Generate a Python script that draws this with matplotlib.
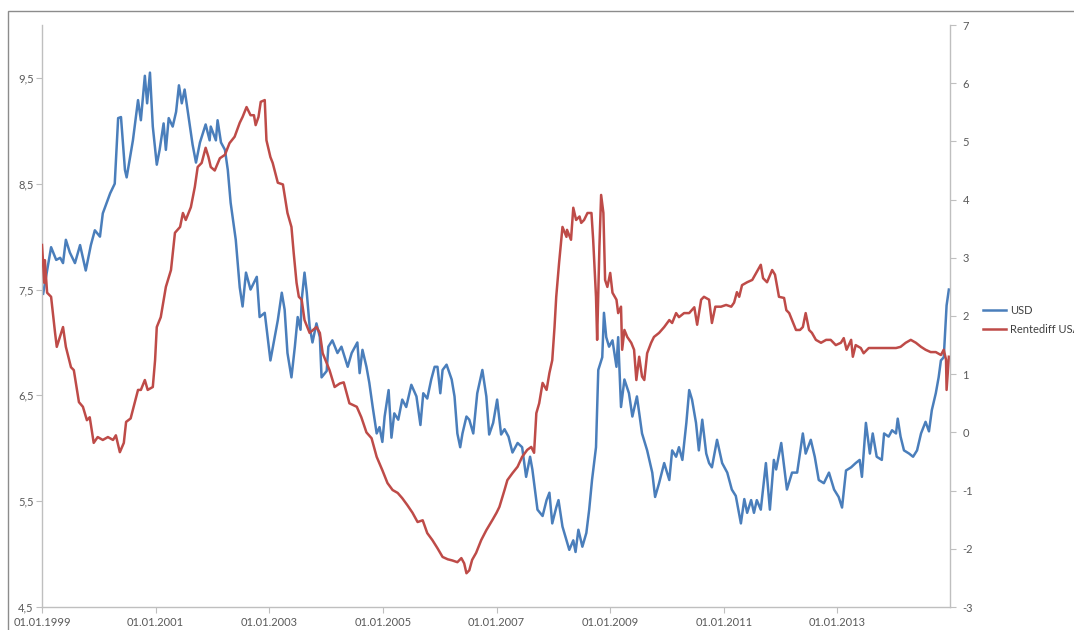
import matplotlib
matplotlib.use("Agg")
import matplotlib.pyplot as plt
from matplotlib.patches import Rectangle

# USD (left axis), position in decimal years
usd_year = [1999.02, 1999.16, 1999.25, 1999.32, 1999.37, 1999.42, 1999.49, 1999.58, 1999.67, 1999.77,
            1999.86, 1999.93, 2000.02, 2000.07, 2000.20, 2000.28, 2000.34, 2000.39, 2000.46, 2000.49,
            2000.60, 2000.69, 2000.74, 2000.81, 2000.85, 2000.90, 2000.95, 2001.02, 2001.07, 2001.14,
            2001.18, 2001.23, 2001.30, 2001.36, 2001.41, 2001.46, 2001.51, 2001.58, 2001.65, 2001.71,
            2001.78, 2001.88, 2001.95, 2001.97, 2002.06, 2002.09, 2002.15, 2002.22, 2002.27, 2002.32,
            2002.41, 2002.48, 2002.53, 2002.59, 2002.67, 2002.78, 2002.83, 2002.92, 2003.02, 2003.15,
            2003.22, 2003.27, 2003.32, 2003.39, 2003.45, 2003.50, 2003.55, 2003.57, 2003.62, 2003.66,
            2003.71, 2003.76, 2003.83, 2003.89, 2003.92, 2004.01, 2004.04, 2004.11, 2004.20, 2004.27,
            2004.38, 2004.45, 2004.55, 2004.59, 2004.64, 2004.71, 2004.76, 2004.82, 2004.89, 2004.94,
            2004.99, 2005.03, 2005.10, 2005.15, 2005.20, 2005.27, 2005.34, 2005.41, 2005.50, 2005.59,
            2005.66, 2005.71, 2005.78, 2005.85, 2005.91, 2005.96, 2006.01, 2006.05, 2006.12, 2006.21,
            2006.26, 2006.31, 2006.36, 2006.40, 2006.47, 2006.52, 2006.59, 2006.66, 2006.75, 2006.82,
            2006.87, 2006.94, 2007.01, 2007.08, 2007.14, 2007.21, 2007.28, 2007.37, 2007.45, 2007.52,
            2007.59, 2007.63, 2007.72, 2007.81, 2007.88, 2007.93, 2007.98, 2008.05, 2008.09, 2008.16,
            2008.23, 2008.28, 2008.35, 2008.39, 2008.44, 2008.51, 2008.58, 2008.63, 2008.68, 2008.75,
            2008.79, 2008.86, 2008.89, 2008.93, 2008.98, 2009.04, 2009.11, 2009.14, 2009.19, 2009.25,
            2009.33, 2009.39, 2009.47, 2009.56, 2009.65, 2009.74, 2009.79, 2009.86, 2009.95, 2010.04,
            2010.09, 2010.16, 2010.21, 2010.27, 2010.34, 2010.39, 2010.44, 2010.51, 2010.56, 2010.62,
            2010.69, 2010.74, 2010.79, 2010.88, 2010.97, 2011.06, 2011.14, 2011.21, 2011.30, 2011.36,
            2011.41, 2011.48, 2011.53, 2011.58, 2011.65, 2011.74, 2011.81, 2011.88, 2011.92, 2012.01,
            2012.06, 2012.11, 2012.20, 2012.29, 2012.39, 2012.44, 2012.53, 2012.60, 2012.67, 2012.76,
            2012.85, 2012.94, 2013.02, 2013.08, 2013.15, 2013.24, 2013.32, 2013.39, 2013.43, 2013.50,
            2013.57, 2013.62, 2013.69, 2013.78, 2013.82, 2013.90, 2013.96, 2014.03, 2014.06, 2014.11,
            2014.17, 2014.26, 2014.33, 2014.40, 2014.47, 2014.55, 2014.61, 2014.66, 2014.73, 2014.78,
            2014.82, 2014.87, 2014.91, 2014.92, 2014.96]
usd = [7.46, 7.90, 7.78, 7.80, 7.75, 7.97, 7.85, 7.75, 7.92, 7.68,
       7.92, 8.06, 8.00, 8.22, 8.41, 8.50, 9.12, 9.13, 8.63, 8.56,
       8.91, 9.29, 9.10, 9.52, 9.26, 9.55, 9.04, 8.68, 8.82, 9.07,
       8.82, 9.12, 9.04, 9.18, 9.43, 9.26, 9.39, 9.13, 8.87, 8.70,
       8.89, 9.06, 8.91, 9.04, 8.91, 9.10, 8.89, 8.82, 8.63, 8.32,
       7.97, 7.52, 7.34, 7.66, 7.50, 7.62, 7.24, 7.28, 6.83, 7.21,
       7.47, 7.31, 6.90, 6.67, 6.96, 7.24, 7.12, 7.40, 7.66, 7.47,
       7.15, 7.00, 7.18, 7.05, 6.67, 6.73, 6.96, 7.02, 6.90, 6.96,
       6.77, 6.90, 7.00, 6.71, 6.93, 6.77, 6.62, 6.39, 6.14, 6.20,
       6.06, 6.30, 6.55, 6.10, 6.33, 6.27, 6.46, 6.39, 6.60, 6.49,
       6.22, 6.52, 6.47, 6.65, 6.77, 6.77, 6.52, 6.74, 6.79, 6.65,
       6.49, 6.14, 6.01, 6.14, 6.30, 6.27, 6.14, 6.52, 6.74, 6.49,
       6.13, 6.24, 6.46, 6.13, 6.18, 6.11, 5.96, 6.05, 6.01, 5.73,
       5.92, 5.80, 5.42, 5.36, 5.51, 5.58, 5.29, 5.44, 5.51, 5.26,
       5.13, 5.04, 5.13, 5.02, 5.23, 5.07, 5.20, 5.42, 5.70, 6.01,
       6.74, 6.86, 7.28, 7.05, 6.96, 7.02, 6.77, 7.05, 6.39, 6.65,
       6.52, 6.30, 6.49, 6.14, 5.98, 5.77, 5.54, 5.67, 5.86, 5.70,
       5.98, 5.92, 6.01, 5.89, 6.24, 6.55, 6.46, 6.24, 5.98, 6.27,
       5.95, 5.86, 5.82, 6.08, 5.86, 5.77, 5.61, 5.55, 5.29, 5.52,
       5.39, 5.51, 5.39, 5.51, 5.42, 5.86, 5.42, 5.89, 5.80, 6.05,
       5.83, 5.61, 5.77, 5.77, 6.14, 5.95, 6.08, 5.92, 5.70, 5.67,
       5.77, 5.61, 5.54, 5.44, 5.79, 5.82, 5.86, 5.89, 5.73, 6.24,
       5.95, 6.14, 5.92, 5.89, 6.14, 6.11, 6.17, 6.14, 6.28, 6.11,
       5.98, 5.95, 5.92, 5.98, 6.14, 6.25, 6.16, 6.36, 6.52, 6.67,
       6.83, 6.86, 7.24, 7.35, 7.50]

# Rentediff USA (right axis)
diff_year = [1999.00, 1999.04, 1999.05, 1999.09, 1999.16, 1999.23, 1999.26, 1999.37, 1999.42, 1999.51,
             1999.56, 1999.65, 1999.72, 1999.79, 1999.84, 1999.91, 1999.98, 2000.07, 2000.16, 2000.25,
             2000.30, 2000.37, 2000.44, 2000.48, 2000.56, 2000.63, 2000.69, 2000.74, 2000.81, 2000.86,
             2000.95, 2000.99, 2001.02, 2001.09, 2001.18, 2001.27, 2001.34, 2001.43, 2001.48, 2001.53,
             2001.62, 2001.69, 2001.74, 2001.81, 2001.88, 2001.93, 2001.97, 2002.04, 2002.13, 2002.22,
             2002.30, 2002.39, 2002.48, 2002.53, 2002.60, 2002.67, 2002.73, 2002.76, 2002.81, 2002.85,
             2002.92, 2002.95, 2003.02, 2003.06, 2003.15, 2003.24, 2003.32, 2003.39, 2003.43, 2003.48,
             2003.52, 2003.57, 2003.62, 2003.71, 2003.83, 2003.89, 2003.94, 2004.01, 2004.06, 2004.15,
             2004.24, 2004.31, 2004.41, 2004.54, 2004.62, 2004.71, 2004.80, 2004.89, 2004.99, 2005.08,
             2005.17, 2005.26, 2005.34, 2005.43, 2005.52, 2005.61, 2005.70, 2005.78, 2005.87, 2005.96,
             2006.05, 2006.14, 2006.22, 2006.31, 2006.38, 2006.43, 2006.47, 2006.52, 2006.57, 2006.64,
             2006.73, 2006.82, 2006.93, 2007.00, 2007.05, 2007.14, 2007.19, 2007.28, 2007.37, 2007.45,
             2007.54, 2007.61, 2007.66, 2007.70, 2007.75, 2007.81, 2007.88, 2007.93, 2007.98, 2008.02,
             2008.05, 2008.10, 2008.16, 2008.23, 2008.24, 2008.31, 2008.35, 2008.40, 2008.46, 2008.49,
             2008.54, 2008.60, 2008.67, 2008.70, 2008.75, 2008.77, 2008.81, 2008.84, 2008.88, 2008.91,
             2008.95, 2009.00, 2009.04, 2009.11, 2009.14, 2009.19, 2009.21, 2009.25, 2009.30, 2009.37,
             2009.42, 2009.46, 2009.51, 2009.56, 2009.60, 2009.65, 2009.72, 2009.77, 2009.86, 2009.95,
             2010.04, 2010.09, 2010.16, 2010.21, 2010.30, 2010.39, 2010.48, 2010.53, 2010.60, 2010.65,
             2010.74, 2010.79, 2010.85, 2010.95, 2011.04, 2011.13, 2011.18, 2011.23, 2011.27, 2011.32,
             2011.41, 2011.50, 2011.58, 2011.65, 2011.69, 2011.76, 2011.85, 2011.90, 2011.97, 2012.06,
             2012.10, 2012.15, 2012.20, 2012.27, 2012.34, 2012.39, 2012.44, 2012.50, 2012.55, 2012.62,
             2012.71, 2012.80, 2012.88, 2012.97, 2013.06, 2013.11, 2013.16, 2013.24, 2013.27, 2013.32,
             2013.41, 2013.46, 2013.55, 2013.67, 2013.78, 2013.90, 2014.03, 2014.11, 2014.20, 2014.29,
             2014.38, 2014.47, 2014.55, 2014.64, 2014.73, 2014.82, 2014.87, 2014.91, 2014.92, 2014.96]
diff = [3.22, 2.57, 2.96, 2.40, 2.33, 1.71, 1.47, 1.81, 1.47, 1.12,
        1.07, 0.52, 0.44, 0.21, 0.26, -0.18, -0.08, -0.13, -0.08, -0.13,
        -0.05, -0.34, -0.18, 0.18, 0.24, 0.50, 0.73, 0.73, 0.90, 0.73,
        0.78, 1.24, 1.81, 1.98, 2.50, 2.79, 3.43, 3.53, 3.77, 3.65,
        3.87, 4.22, 4.56, 4.63, 4.89, 4.73, 4.56, 4.50, 4.71, 4.77,
        4.97, 5.08, 5.32, 5.42, 5.59, 5.45, 5.45, 5.28, 5.42, 5.68,
        5.71, 5.02, 4.73, 4.63, 4.29, 4.26, 3.77, 3.53, 3.08, 2.57,
        2.33, 2.28, 1.93, 1.71, 1.81, 1.71, 1.36, 1.19, 1.07, 0.78,
        0.84, 0.86, 0.50, 0.44, 0.26, 0.00, -0.10, -0.42, -0.65, -0.87,
        -0.99, -1.04, -1.13, -1.25, -1.38, -1.54, -1.51, -1.73, -1.85, -1.99,
        -2.14, -2.18, -2.20, -2.23, -2.16, -2.25, -2.42, -2.37, -2.19, -2.07,
        -1.85, -1.68, -1.50, -1.38, -1.28, -0.99, -0.82, -0.70, -0.59, -0.42,
        -0.30, -0.25, -0.35, 0.33, 0.50, 0.85, 0.73, 1.02, 1.24, 1.81,
        2.33, 2.91, 3.53, 3.36, 3.48, 3.31, 3.86, 3.65, 3.71, 3.60,
        3.65, 3.77, 3.77, 3.31, 2.33, 1.59, 3.19, 4.08, 3.77, 2.62,
        2.50, 2.74, 2.40, 2.28, 2.05, 2.16, 1.42, 1.76, 1.64, 1.54,
        1.42, 0.90, 1.30, 0.96, 0.90, 1.36, 1.54, 1.64, 1.71, 1.81,
        1.93, 1.88, 2.05, 1.98, 2.05, 2.05, 2.15, 1.85, 2.28, 2.33,
        2.28, 1.88, 2.16, 2.16, 2.19, 2.16, 2.23, 2.41, 2.33, 2.53,
        2.58, 2.62, 2.76, 2.88, 2.65, 2.58, 2.79, 2.71, 2.33, 2.31,
        2.10, 2.05, 1.93, 1.76, 1.76, 1.81, 2.05, 1.76, 1.71, 1.59,
        1.54, 1.59, 1.59, 1.50, 1.54, 1.62, 1.42, 1.59, 1.30, 1.50,
        1.45, 1.36, 1.45, 1.45, 1.45, 1.45, 1.45, 1.47, 1.54, 1.59,
        1.54, 1.47, 1.42, 1.38, 1.38, 1.33, 1.42, 1.25, 0.73, 1.30]

year_ticks = [1999, 2001, 2003, 2005, 2007, 2009, 2011, 2013]
year_labels = ['01.01.1999', '01.01.2001', '01.01.2003', '01.01.2005',
               '01.01.2007', '01.01.2009', '01.01.2011', '01.01.2013']
left_ticks = [4.5, 5.5, 6.5, 7.5, 8.5, 9.5]
left_labels = ['4,5', '5,5', '6,5', '7,5', '8,5', '9,5']
right_ticks = [-3, -2, -1, 0, 1, 2, 3, 4, 5, 6, 7]

plt.rcParams['font.family'] = ['Lato', 'DejaVu Sans']

W, H = 1074, 630
fig = plt.figure(figsize=(W / 100, H / 100), dpi=100)
ax = fig.add_axes([42 / W, 23 / H, 908 / W, 582 / H])
ax2 = ax.twinx()

axis_grey = '#bfbfbf'
text_grey = '#595959'

l1, = ax.plot(usd_year, usd, color='#4a7ebb', lw=1.8, label='USD')
l2, = ax2.plot(diff_year, diff, color='#be4b48', lw=1.8, label='Rentediff USA')

ax.set_xlim(1999, 2014.98)
ax.set_ylim(4.5, 10)
ax2.set_ylim(-3, 7)

ax.set_xticks(year_ticks, year_labels)
ax.set_yticks(left_ticks, left_labels)
ax2.set_yticks(right_ticks, [str(t) for t in right_ticks])

for a in (ax, ax2):
    for s in a.spines.values():
        s.set_visible(False)
ax.spines['left'].set_visible(True)
ax.spines['bottom'].set_visible(True)
ax2.spines['right'].set_visible(True)
for s in (ax.spines['left'], ax.spines['bottom'], ax2.spines['right']):
    s.set_color(axis_grey)
    s.set_linewidth(1.0)

ax.tick_params(axis='x', length=4, color=axis_grey, labelcolor=text_grey, labelsize=8, pad=3)
ax.tick_params(axis='y', length=4, color=axis_grey, labelcolor=text_grey, labelsize=8, pad=2)
ax2.tick_params(axis='y', length=4, color=axis_grey, labelcolor=text_grey, labelsize=8, pad=5)

# chart area border (runs off the right and bottom edges)
fig.patches.append(Rectangle((8 / W, -0.5), 2, 1.5 - 11 / H, transform=fig.transFigure,
                             fill=False, edgecolor='#8c8c8c', lw=1.0))

leg = fig.legend([l1, l2], ['USD', 'Rentediff USA'], loc='upper left',
                 bbox_to_anchor=(983 / W, 1 - 305 / H), frameon=False, fontsize=8,
                 handlelength=2.1, handletextpad=0.3, labelspacing=0.75,
                 borderpad=0, borderaxespad=0)
for t in leg.get_texts():
    t.set_color('#404040')

fig.savefig('out.png', dpi=100)
